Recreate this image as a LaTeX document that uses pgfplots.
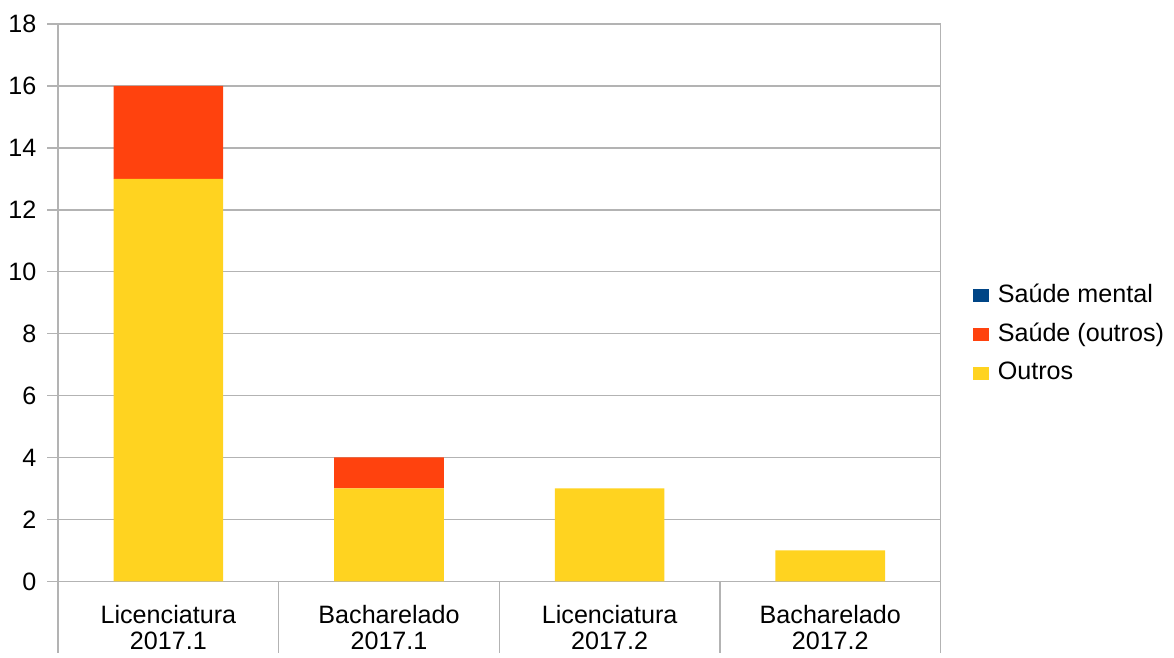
\documentclass[border=0pt]{standalone}
\usepackage{fontspec}
\setmainfont{Liberation Sans}
\usepackage{pgfplots}
\pgfplotsset{compat=1.18}
\definecolor{gridc}{HTML}{B3B3B3}
\definecolor{outros}{HTML}{FFD320}
\definecolor{saudeo}{HTML}{FF420E}
\definecolor{saudem}{HTML}{004586}
\begin{document}
\fontsize{12.6}{15}\selectfont
\begin{tikzpicture}
\begin{axis}[
  scale only axis,
  width=442.5pt, height=279.5pt,
  clip=false,
  ybar stacked, bar width=55pt,
  xmin=-0.5, xmax=3.5, ymin=0, ymax=18,
  ytick={0,2,...,18},
  xtick={0,1,2,3},
  xtick pos=bottom, ytick pos=left,
  xticklabels={{Licenciatura\\2017.1},{Bacharelado\\2017.1},{Licenciatura\\2017.2},{Bacharelado\\2017.2}},
  xticklabel style={align=center, font=\fontsize{12.6}{13}\selectfont, yshift=-2pt},
  xtick style={draw=none},
  ymajorgrids, grid style={gridc, line width=0.8pt},
  axis line style={gridc, line width=0.8pt},
  ytick style={draw=gridc, line width=0.8pt},
  tick align=outside, major tick length=5.5pt,
  yticklabel style={font=\fontsize{12.6}{15}\selectfont, xshift=-1pt},
  /pgf/number format/assume math mode=true,
  every axis plot/.append style={draw=none},
  legend style={at={(1,0.444)}, anchor=west, xshift=13pt, draw=none, fill=none,
    font=\fontsize{12.6}{15}\selectfont, row sep=4.5pt},
  legend cell align=left,
  reverse legend,
  legend image code/.code={\fill[#1] (0pt,-3.25pt) rectangle (8pt,3.25pt); \path (10.5pt,0pt);},
]
\addplot[fill=outros] coordinates {(0,13) (1,3) (2,3) (3,1)};
\addlegendentry{Outros}
\addplot[fill=saudeo] coordinates {(0,3) (1,1) (2,0) (3,0)};
\addlegendentry{Saúde (outros)}
\addplot[fill=saudem] coordinates {(0,0) (1,0) (2,0) (3,0)};
\addlegendentry{Saúde mental}
\pgfplotsinvokeforeach{-0.5,0.5,1.5,2.5,3.5}{
  \draw[gridc, line width=0.8pt] (axis cs:#1,0) -- ([yshift=-36pt]axis cs:#1,0);
}
\path ([yshift=12pt]rel axis cs:0,1) -- ([yshift=-38pt]rel axis cs:0,0);
\end{axis}
\end{tikzpicture}
\end{document}
